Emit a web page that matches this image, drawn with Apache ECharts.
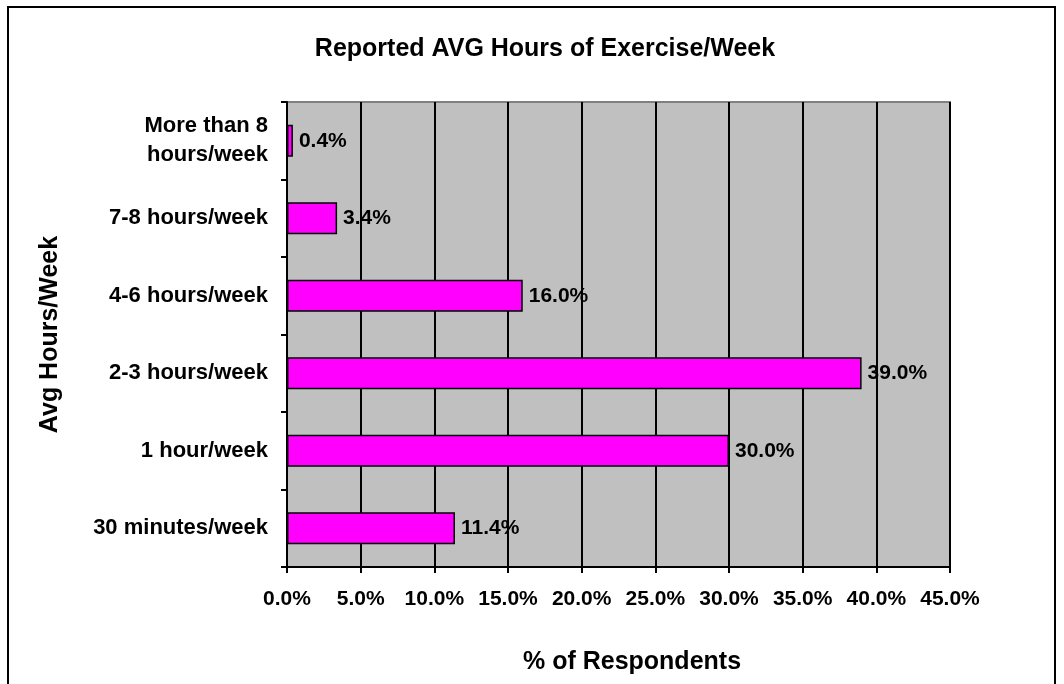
<!DOCTYPE html>
<html>
<head>
<meta charset="utf-8">
<script src="https://cdn.jsdelivr.net/npm/echarts@6/dist/echarts.min.js"></script>
<style>
  html, body { margin: 0; padding: 0; background: #fff; }
  #chart { width: 1064px; height: 684px; }
</style>
</head>
<body>
<div id="chart"></div>
<script>
// categories top to bottom, values in % of respondents
const categories = [
  'More than 8\nhours/week',
  '7-8 hours/week',
  '4-6 hours/week',
  '2-3 hours/week',
  '1 hour/week',
  '30 minutes/week'
]
const percents = [0.4, 3.4, 16.0, 39.0, 30.0, 11.4]
const xTicks = [0, 5, 10, 15, 20, 25, 30, 35, 40, 45]

const FONT = '"Liberation Sans", Arial, sans-serif'
const chart = echarts.init(document.getElementById('chart'))

chart.setOption({
  animation: false,
  textStyle: { fontFamily: FONT },
  title: {
    text: 'Reported AVG Hours of Exercise/Week',
    left: 540,
    textAlign: 'center',
    top: 32,
    textStyle: { fontFamily: FONT, fontSize: 25, fontWeight: 'bold', color: '#000' }
  },
  graphic: [{
    type: 'rect',
    shape: { x: 8, y: 7, width: 1047, height: 700 },
    style: { fill: 'none', stroke: '#000', lineWidth: 2 },
    silent: true
  }],
  grid: {
    left: 287, right: 114, top: 102, bottom: 117,
    show: true, backgroundColor: '#c0c0c0', borderColor: '#808080', borderWidth: 2
  },
  xAxis: {
    type: 'value',
    min: xTicks[0],
    max: xTicks[xTicks.length - 1],
    interval: 5,
    name: '% of Respondents',
    nameLocation: 'middle',
    nameGap: 83,
    nameTextStyle: { fontFamily: FONT, fontSize: 25, fontWeight: 'bold', color: '#000', padding: [0, 0, 0, 27] },
    axisLine: { show: true, lineStyle: { color: '#000', width: 2 } },
    axisTick: { show: true, length: 6, lineStyle: { color: '#000', width: 2 } },
    axisLabel: {
      margin: 22,
      fontFamily: FONT, fontSize: 21, fontWeight: 'bold', color: '#000',
      formatter: (v) => v.toFixed(1) + '%'
    },
    splitLine: { show: true, lineStyle: { color: '#000', width: 2 } }
  },
  yAxis: {
    type: 'category',
    data: categories,
    inverse: true,
    name: 'Avg Hours/Week',
    nameLocation: 'middle',
    nameGap: 224,
    nameTextStyle: { fontFamily: FONT, fontSize: 25, fontWeight: 'bold', color: '#000' },
    axisLine: { show: true, lineStyle: { color: '#000', width: 2 } },
    axisTick: { show: true, length: 6, lineStyle: { color: '#000', width: 2 } },
    axisLabel: {
      margin: 19,
      align: 'right',
      fontFamily: FONT, fontSize: 22, fontWeight: 'bold', color: '#000',
      lineHeight: 29
    },
    splitLine: { show: false }
  },
  series: [{
    type: 'bar',
    data: percents,
    barWidth: 32,
    itemStyle: { color: '#ff00ff', borderColor: '#000', borderWidth: 1.5 },
    label: {
      show: true,
      position: 'right',
      distance: 6,
      fontFamily: FONT, fontSize: 21, fontWeight: 'bold', color: '#000',
      formatter: (p) => p.value.toFixed(1) + '%'
    }
  }]
})
</script>
</body>
</html>
